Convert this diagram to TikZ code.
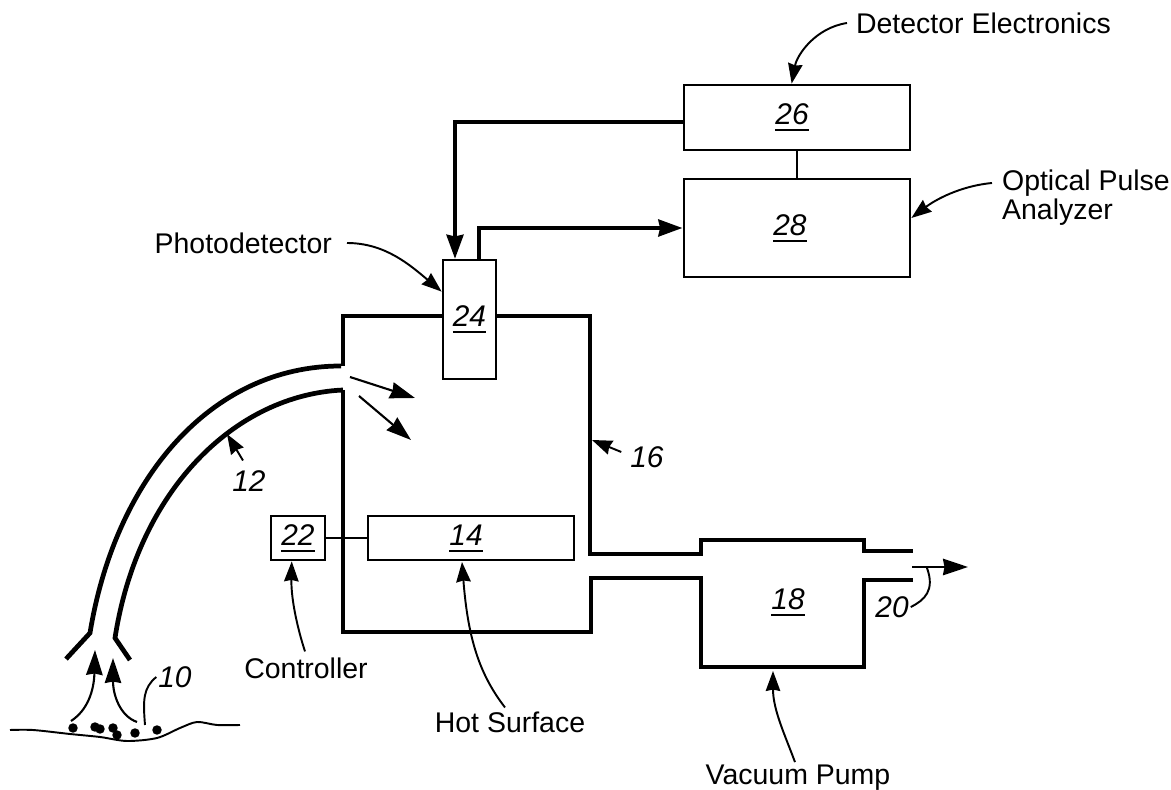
\documentclass[tikz,border=0pt]{standalone}
\usepackage{fontspec}
\setmainfont{Liberation Sans}
\usetikzlibrary{
    arrows.meta,
    calc
}
\newcommand{\refnum}[2][0pt]{\hspace*{#1}\vtop{\hbox{\textit{#2}}\kern2.6pt\hrule height 1.1pt}}
\tikzset{
  basic/.style = {
      draw,
      line width=1.6pt,
      inner sep=0pt,
      font=\fontsize{17}{18}\selectfont
  },
  plain/.style = {
      font=\fontsize{16.2}{16.4}\selectfont,
      align=center,
      inner sep=1pt
  },
  number/.style = {
      font=\fontsize{17}{18}\selectfont\itshape,
      inner sep=1pt
  },
  wall/.style = {
      line width=2.7pt,
      line join=miter
  },
  wire/.style = {
      line width=2.7pt,
      -{Stealth[length=4.8mm,width=3.3mm,inset=0.3mm]}
  },
  thin wire/.style = {
      line width=1.7pt
  },
  leader/.style = {
      line width=1.1pt,
      -{Stealth[length=4mm,width=2.9mm,inset=0.3mm]}
  },
  curve/.style = {
      line width=1.1pt
  },
  big tip/.style = {
      line width=1.2pt,
      -{Stealth[length=5mm,width=3.3mm,inset=0.3mm]}
  },
  dot/.style = {
      circle,
      fill=black,
      inner sep=0pt,
      minimum size=1.9mm
  }
}
\begin{document}
\begin{tikzpicture}[x=0.02cm,y=-0.02cm]
    \useasboundingbox (0,0) rectangle (1171,790);
    % Boxes
    \node[basic, minimum width=4.52cm, minimum height=1.3cm] (B26) at (797,117.5) {\refnum[-5.6pt]{26}};
    \node[basic, minimum width=4.52cm, minimum height=1.96cm] (B28) at (797,228) {\refnum[-8pt]{28}};
    \node[basic, minimum width=1.06cm, minimum height=2.38cm] (B24) at (469.5,319.5) {\refnum{24}};
    \node[basic, minimum width=4.12cm, minimum height=0.88cm] (B14) at (471,538) {\refnum[-5.6pt]{14}};
    \node[basic, minimum width=1.08cm, minimum height=0.88cm] (B22) at (298,538) {\refnum{22}};
    \node[number] (B18) at (788,602) {\refnum{18}};
    % Labels
    \node[plain, anchor=west] (detector) at (854,23) {Detector Electronics};
    \node[plain, anchor=west, align=left] (analyzer) at (1000,198) {Optical Pulse\\Analyzer};
    \node[plain, anchor=east] (photo) at (334,243) {Photodetector};
    \node[plain] (controller) at (306,668) {Controller};
    \node[plain] (hot) at (510,722) {Hot Surface};
    \node[plain] (pump) at (798,778) {Vacuum Pump};
    \node[number] (n10) at (175,677) {10};
    \node[number] (n12) at (249,481) {12};
    \node[number] (n16) at (647,457) {16};
    \node[number] (n20) at (892,607) {20};
    % Points
    \coordinate (in24) at (455,259);
    \coordinate (out24) at (479,260);
    \coordinate (pumpB) at (773,671);
    \coordinate (wall16) at (592,440);
    \coordinate (tube12) at (227,434);
    \coordinate (ventA) at (913,551);
    \coordinate (ventB) at (913,580);
    \coordinate (flowS) at (912,567);
    \coordinate (flowE) at (968,567);
    \coordinate (flowM) at (927,568);
    % Chamber and pump
    \draw[wall] (343,366) -- (343,316) -- (B24.west |- 0,316);
    \draw[wall] (B24.east |- 0,316) -- (590,316) -- (590,554) -- (701,554) -- (701,540) -- (864,540) -- (864,551) -- (ventA);
    \draw[wall] (343,390) -- (343,632) -- (591,632) -- (591,578) -- (701,578) -- (701,667) -- (864,667) -- (864,580) -- (ventB);
    % Tube
    \draw[wall] (66,659) -- (90,633) .. controls (115,480) and (210,366) .. (341,366);
    \draw[wall] (130,660) -- (115,638) .. controls (138,490) and (235,395) .. (343,390);
    % Wires
    \draw[wire] (B26.west |- 0,122) -- (in24 |- 0,122) -- (in24);
    \draw[wire] (out24) -- (out24 |- B28.west) -- (B28.west);
    \draw[thin wire] (B26) -- (B28);
    \draw[thin wire] (B22) -- (B14);
    % Leaders
    \draw[leader] (detector.west) ++(-7,0) .. controls (815,28) and (797,55) .. (B26.99);
    \draw[leader] (analyzer.west) ++(-8,-15) .. controls (960,186) and (935,200) .. (B28.5);
    \draw[leader] (photo.east) ++(13,0) .. controls (385,243) and (410,265) .. (B24.135);
    \draw[leader] (n16.west) ++(-7,-5) -- (wall16);
    \draw[leader] (n12.north) ++(-6,-8) -- (tube12);
    \draw[leader] (controller.north) ++(-1,-4) .. controls (298,630) and (291,600) .. (B22.255);
    \draw[leader] (hot.north) ++(-5,-2) .. controls (480,675) and (468,640) .. (462,562);
    \draw[leader] (pump.north) ++(-3,-1) .. controls (785,735) and (773,710) .. (pumpB);
    \draw[big tip] (flowS) -- (flowE);
    \draw[curve] (n20.east) .. controls (925,600) and (935,590) .. (flowM);
    \draw[curve] (145,725) .. controls (143,700) and (143,688) .. (n10.west);
    % Flow
    \draw[big tip] (350,377) -- (415,398);
    \draw[big tip] (359,396) -- (411,440);
    \draw[big tip] (71,721) .. controls (88,710) and (94,690) .. (95,650);
    \draw[big tip] (137,722) .. controls (120,716) and (113,695) .. (113,658);
    % Surface
    \draw[curve] plot[smooth] coordinates {(10,730) (33,730) (70,734) (100,737) (127,741) (157,738) (180,728) (197,722) (217,725) (240,725)};
    \foreach \px/\py [count=\i] in {73/728, 95/727, 100/729, 113/728, 117/735, 135/733, 157/730}
        \node[dot] (p\i) at (\px,\py) {};
\end{tikzpicture}
\end{document}
